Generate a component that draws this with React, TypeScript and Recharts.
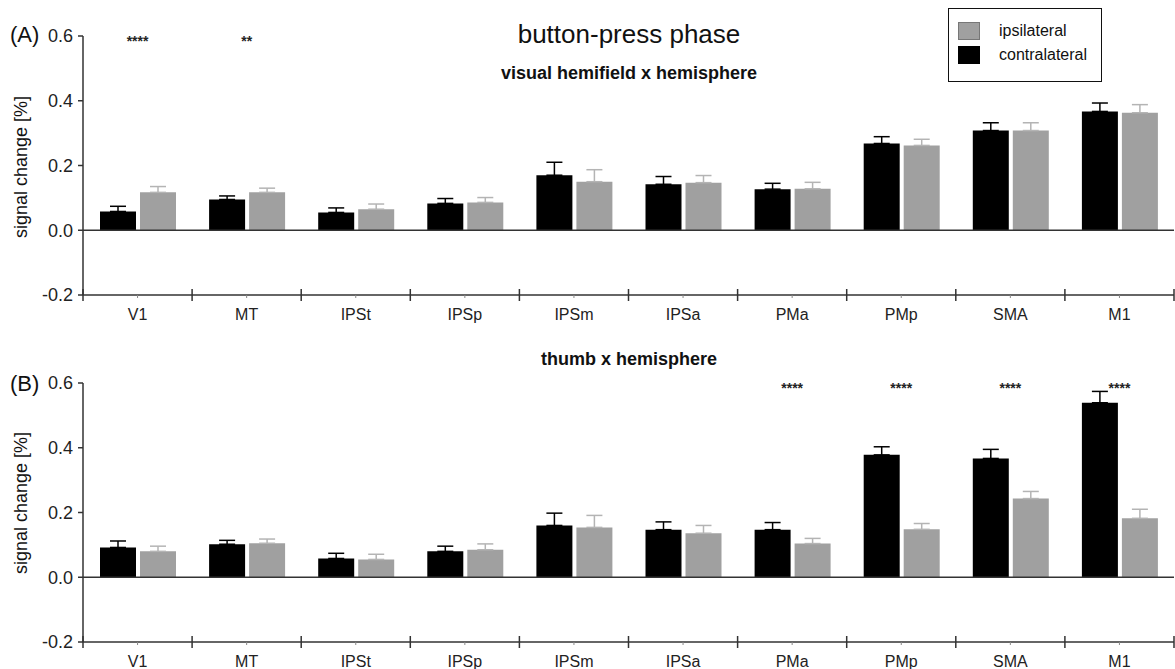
import React from "react";
import { BarChart, Bar, XAxis, YAxis, ErrorBar, ReferenceLine, ReferenceDot } from "recharts";

const categories = ["V1", "MT", "IPSt", "IPSp", "IPSm", "IPSa", "PMa", "PMp", "SMA", "M1"];

// (A) visual hemifield x hemisphere
const hemifieldContra = [0.058, 0.095, 0.055, 0.083, 0.17, 0.142, 0.127, 0.268, 0.308, 0.367];
const hemifieldContraErr = [0.016, 0.011, 0.014, 0.015, 0.04, 0.024, 0.018, 0.021, 0.024, 0.026];
const hemifieldIpsi = [0.117, 0.117, 0.065, 0.086, 0.15, 0.147, 0.128, 0.262, 0.308, 0.363];
const hemifieldIpsiErr = [0.018, 0.013, 0.016, 0.015, 0.037, 0.022, 0.02, 0.019, 0.024, 0.025];
const hemifieldSig = ["****", "**", "", "", "", "", "", "", "", ""];

// (B) thumb x hemisphere
const thumbContra = [0.092, 0.102, 0.058, 0.08, 0.16, 0.147, 0.147, 0.378, 0.367, 0.539];
const thumbContraErr = [0.02, 0.012, 0.016, 0.016, 0.038, 0.024, 0.022, 0.025, 0.028, 0.035];
const thumbIpsi = [0.08, 0.105, 0.055, 0.085, 0.154, 0.136, 0.104, 0.148, 0.243, 0.182];
const thumbIpsiErr = [0.016, 0.013, 0.016, 0.018, 0.037, 0.024, 0.016, 0.018, 0.022, 0.028];
const thumbSig = ["", "", "", "", "", "", "****", "****", "****", "****"];

const yTicks = [-0.2, 0, 0.2, 0.4, 0.6];

const FONT = "Arial, 'Liberation Sans', sans-serif";
const BLACK = "#000";
const GRAY = "#a0a0a0";
const GRAY_ERR = "#b4b4b4";
const AXIS = "#333";

const W = 1175;
const H = 335;
const PLOT_LEFT = 83;
const PLOT_RIGHT = 1;
const STEP = (W - PLOT_LEFT - PLOT_RIGHT) / categories.length;

function buildRows(contra: number[], contraErr: number[], ipsi: number[], ipsiErr: number[], sig: string[]) {
  return categories.map((name, i) => ({
    name,
    contra: contra[i],
    contraErr: [0, contraErr[i]],
    ipsi: ipsi[i],
    ipsiErr: [0, ipsiErr[i]],
    sig: sig[i],
  }));
}

function CategoryTick(props: any) {
  const { x, y, payload, index } = props;
  const last = index === categories.length - 1;
  return (
    <g>
      <line x1={x - STEP / 2} x2={x - STEP / 2} y1={y - 6} y2={y + 6} stroke={AXIS} strokeWidth={1.5} />
      {last && <line x1={x + STEP / 2} x2={x + STEP / 2} y1={y - 6} y2={y + 6} stroke={AXIS} strokeWidth={1.5} />}
      <line x1={x} x2={x} y1={y} y2={y + 3} stroke="#888" strokeWidth={1} />
      <text x={x} y={y + 25} textAnchor="middle" fontSize={16} fontFamily={FONT} fill="#222">
        {payload.value}
      </text>
    </g>
  );
}

function Panel({ rows, top, marginTop }: { rows: any[]; top: number; marginTop: number }) {
  return (
    <div style={{ position: "absolute", left: 0, top }}>
      <BarChart
        width={W}
        height={H}
        data={rows}
        barSize={36}
        barGap={4}
        margin={{ top: marginTop, right: PLOT_RIGHT, left: PLOT_LEFT - 40, bottom: 0 }}
      >
        <XAxis
          dataKey="name"
          interval={0}
          height={H - marginTop - 259}
          tickSize={0}
          tickMargin={0}
          tickLine={false}
          axisLine={{ stroke: AXIS, strokeWidth: 1.5 }}
          tick={<CategoryTick />}
        />
        <YAxis
          width={40}
          domain={[-0.2, 0.6]}
          ticks={yTicks}
          interval={0}
          tickFormatter={(v: number) => v.toFixed(1)}
          tickSize={5}
          tickMargin={5}
          axisLine={{ stroke: AXIS, strokeWidth: 1.5 }}
          tickLine={{ stroke: AXIS, strokeWidth: 1.5 }}
          tick={{ fill: "#222", fontSize: 18, fontFamily: FONT }}
        />
        <ReferenceLine y={0} stroke={AXIS} strokeWidth={1.5} />
        <Bar dataKey="contra" fill={BLACK} isAnimationActive={false}>
          <ErrorBar dataKey="contraErr" direction="y" width={8} stroke={BLACK} strokeWidth={1.5} />
        </Bar>
        <Bar dataKey="ipsi" fill={GRAY} isAnimationActive={false}>
          <ErrorBar dataKey="ipsiErr" direction="y" width={8} stroke={GRAY_ERR} strokeWidth={1.5} />
        </Bar>
        {rows
          .filter((r) => r.sig)
          .map((r) => (
            <ReferenceDot
              key={r.name}
              x={r.name}
              y={0.6}
              r={0}
              fill="none"
              stroke="none"
              ifOverflow="visible"
              label={{
                value: r.sig,
                position: "bottom",
                offset: 0,
                fontSize: 14,
                fontWeight: "bold",
                fontFamily: FONT,
                fill: "#222",
              }}
            />
          ))}
      </BarChart>
    </div>
  );
}

const legendItems = [
  { name: "ipsilateral", color: GRAY, border: "#777" },
  { name: "contralateral", color: BLACK, border: BLACK },
];

const textStyle: React.CSSProperties = { position: "absolute", fontFamily: FONT, color: "#111", whiteSpace: "nowrap" };

export default function App() {
  const rowsA = buildRows(hemifieldContra, hemifieldContraErr, hemifieldIpsi, hemifieldIpsiErr, hemifieldSig);
  const rowsB = buildRows(thumbContra, thumbContraErr, thumbIpsi, thumbIpsiErr, thumbSig);

  return (
    <div style={{ position: "absolute", left: 0, top: 0, width: W, height: 669, background: "#fff", overflow: "hidden" }}>
      <Panel rows={rowsA} top={0} marginTop={36} />
      <Panel rows={rowsB} top={334} marginTop={49} />

      <div style={{ ...textStyle, left: 629, top: 34, fontSize: 26, transform: "translate(-50%, -50%)" }}>button-press phase</div>
      <div style={{ ...textStyle, left: 629, top: 73, fontSize: 18, fontWeight: "bold", transform: "translate(-50%, -50%)" }}>
        visual hemifield x hemisphere
      </div>
      <div style={{ ...textStyle, left: 629, top: 359, fontSize: 18, fontWeight: "bold", transform: "translate(-50%, -50%)" }}>
        thumb x hemisphere
      </div>

      <div style={{ ...textStyle, left: 10, top: 35, fontSize: 22, transform: "translateY(-50%)" }}>(A)</div>
      <div style={{ ...textStyle, left: 10, top: 384, fontSize: 22, transform: "translateY(-50%)" }}>(B)</div>

      <div style={{ ...textStyle, left: 21, top: 167, fontSize: 18, transform: "translate(-50%, -50%) rotate(-90deg)" }}>
        signal change [%]
      </div>
      <div style={{ ...textStyle, left: 21, top: 503, fontSize: 18, transform: "translate(-50%, -50%) rotate(-90deg)" }}>
        signal change [%]
      </div>

      <div
        style={{
          position: "absolute",
          left: 948,
          top: 8,
          width: 152,
          height: 72,
          border: "1.5px solid #111",
          background: "#fff",
        }}
      >
        {legendItems.map((item, i) => (
          <div key={item.name} style={{ position: "absolute", left: 9, top: 12 + i * 24, height: 20, display: "flex", alignItems: "center" }}>
            <div style={{ width: 22, height: 18, background: item.color, border: `1px solid ${item.border}`, boxSizing: "border-box" }} />
            <span style={{ marginLeft: 19, fontFamily: FONT, fontSize: 16, color: "#111" }}>{item.name}</span>
          </div>
        ))}
      </div>
    </div>
  );
}
